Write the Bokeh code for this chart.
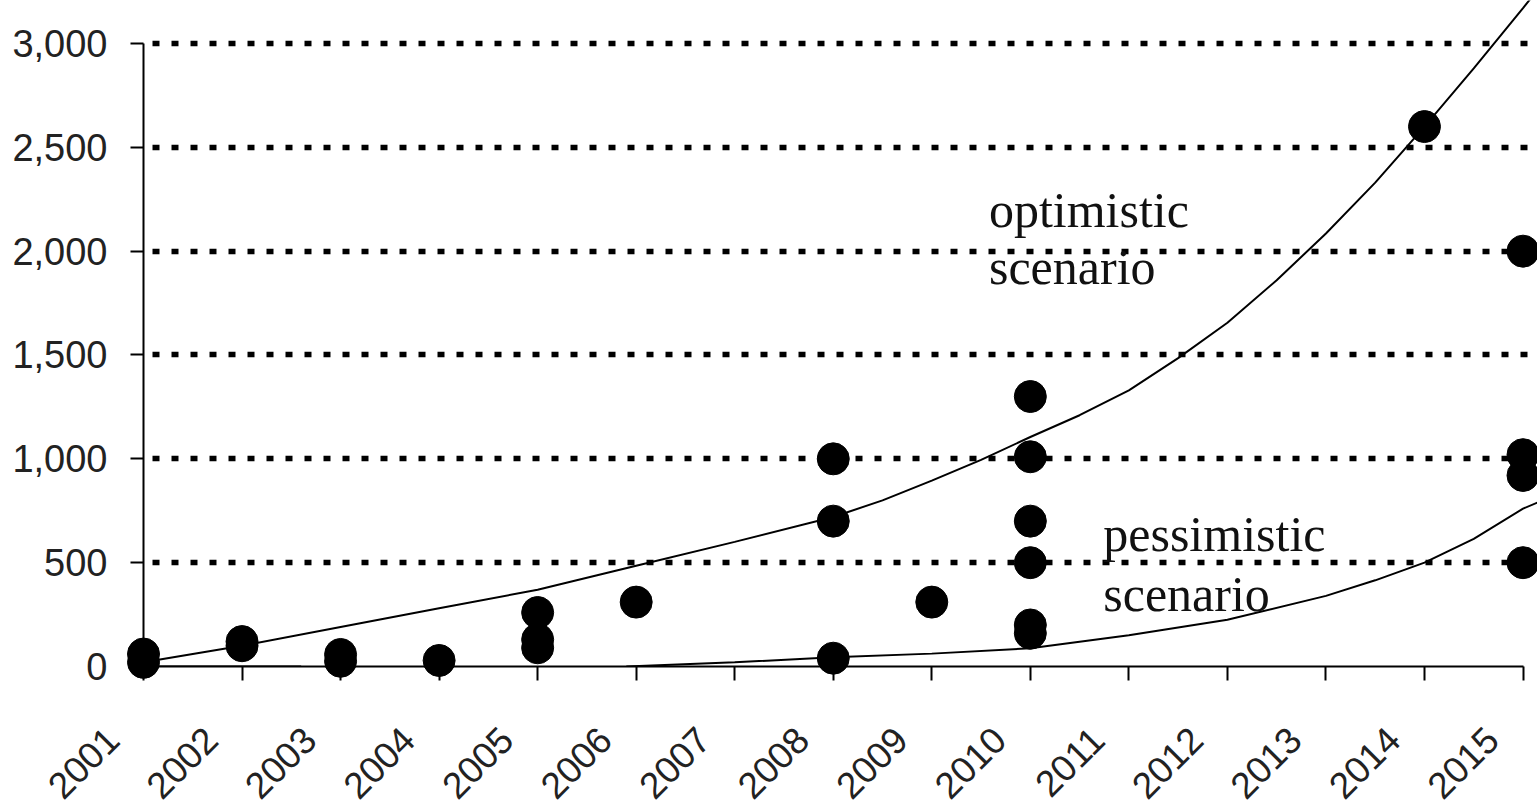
import math
from bokeh.plotting import figure
from bokeh.models import FixedTicker, NumeralTickFormatter, Label, Range1d
from bokeh.core.properties import value
from bokeh.embed import file_html
from bokeh.resources import INLINE

# ---- data ----
years = list(range(2001, 2016))
x_tick_labels = [str(y) for y in years]
blank_labels = {y: "" for y in years}
y_ticks = [0, 500, 1000, 1500, 2000, 2500, 3000]
grid_ticks = [500, 1000, 1500, 2000, 2500, 3000]

point_years = [2001, 2001, 2002, 2002, 2003, 2003, 2004, 2005, 2005, 2005,
               2006, 2008, 2008, 2008, 2009, 2010, 2010, 2010, 2010, 2010,
               2010, 2014, 2015, 2015, 2015, 2015]
point_values = [20, 60, 100, 120, 25, 58, 29, 90, 130, 260,
                310, 40, 700, 1000, 310, 160, 200, 500, 700, 1010,
                1300, 2600, 500, 920, 1020, 2000]

opt_years = [2001, 2002, 2003, 2004, 2005, 2006, 2007, 2008, 2008.5, 2009,
             2009.5, 2010, 2010.5, 2011, 2011.5, 2012, 2012.5, 2013, 2013.5,
             2014, 2014.5, 2015, 2015.1]
opt_values = [20, 100, 190, 280, 370, 485, 600, 720, 800, 895,
              995, 1105, 1210, 1330, 1485, 1655, 1860, 2085, 2330,
              2600, 2880, 3170, 3230]

pess_years = [2001, 2002, 2002.6, 2004, 2005.9, 2007, 2008, 2009, 2010,
              2011, 2012, 2013, 2013.5, 2014, 2014.5, 2015, 2015.15]
pess_values = [0, 0, 0, float("nan"), 0, 20, 45, 62, 88,
               150, 225, 340, 415, 500, 615, 760, 790]

# ---- figure ----
X0, X1 = 2001, 2015.147
p = figure(width=1537, height=806,
           x_range=Range1d(X0, X1), y_range=Range1d(0, 3207),
           output_backend="svg", toolbar_location=None,
           min_border_left=143, min_border_right=0,
           min_border_top=0, min_border_bottom=140)
p.outline_line_color = None
p.background_fill_color = "white"
p.border_fill_color = "white"

p.xgrid.visible = False
p.ygrid.ticker = FixedTicker(ticks=grid_ticks)
p.ygrid.grid_line_color = "black"
p.ygrid.grid_line_width = 5.5
p.ygrid.grid_line_dash = "7 12"
p.ygrid.grid_line_dash_offset = 10

ya = p.yaxis[0]
ya.ticker = FixedTicker(ticks=y_ticks)
ya.formatter = NumeralTickFormatter(format="0,0")
ya.bounds = (0, 3000)
ya.axis_line_width = 2
ya.axis_line_color = "black"
ya.major_tick_out = 13
ya.major_tick_in = 0
ya.major_tick_line_width = 2
ya.minor_tick_out = 0
ya.minor_tick_in = 0
ya.major_label_standoff = 23
ya.major_label_text_font = "Liberation Sans"
ya.major_label_text_font_size = "38px"
ya.major_label_text_color = "#222222"

# x axis: line + ticks (labels drawn below as rotated text)
xa = p.xaxis[0]
xa.ticker = FixedTicker(ticks=years)
xa.major_label_overrides = blank_labels
xa.bounds = (2001, 2015)
xa.axis_line_width = 2
xa.axis_line_color = "black"
xa.major_tick_out = 14
xa.major_tick_in = 0
xa.major_tick_line_width = 2
xa.minor_tick_out = 0
xa.minor_tick_in = 0
xa.major_label_standoff = 0
xa.major_label_text_font_size = "1px"

# rotated year labels, set slightly left of their ticks like the reference
p.text(x=years, y=[0] * len(years), text=x_tick_labels,
       angle=math.pi / 4, x_offset=-31, y_offset=67,
       text_align="right", text_baseline="middle",
       text_font=value("Liberation Sans"), text_font_size="37px",
       text_color="#222222", level="overlay")

# trend curves
p.line(opt_years, opt_values, line_color="black", line_width=2)
p.line(pess_years, pess_values, line_color="black", line_width=2)

# points
p.scatter(point_years, point_values, marker="circle", size=32,
          fill_color="black", line_color="black", level="overlay")

# scenario labels
for txt, xx, yy in [("optimistic", 2009.58, 2196), ("scenario", 2009.58, 1926),
                    ("pessimistic", 2010.74, 636), ("scenario", 2010.74, 347)]:
    p.add_layout(Label(x=xx, y=yy, text=txt, text_font="Liberation Serif",
                       text_font_size="50px", text_color="#111111",
                       text_align="left", text_baseline="alphabetic"))

open("out.html", "w").write(file_html(p, INLINE))
